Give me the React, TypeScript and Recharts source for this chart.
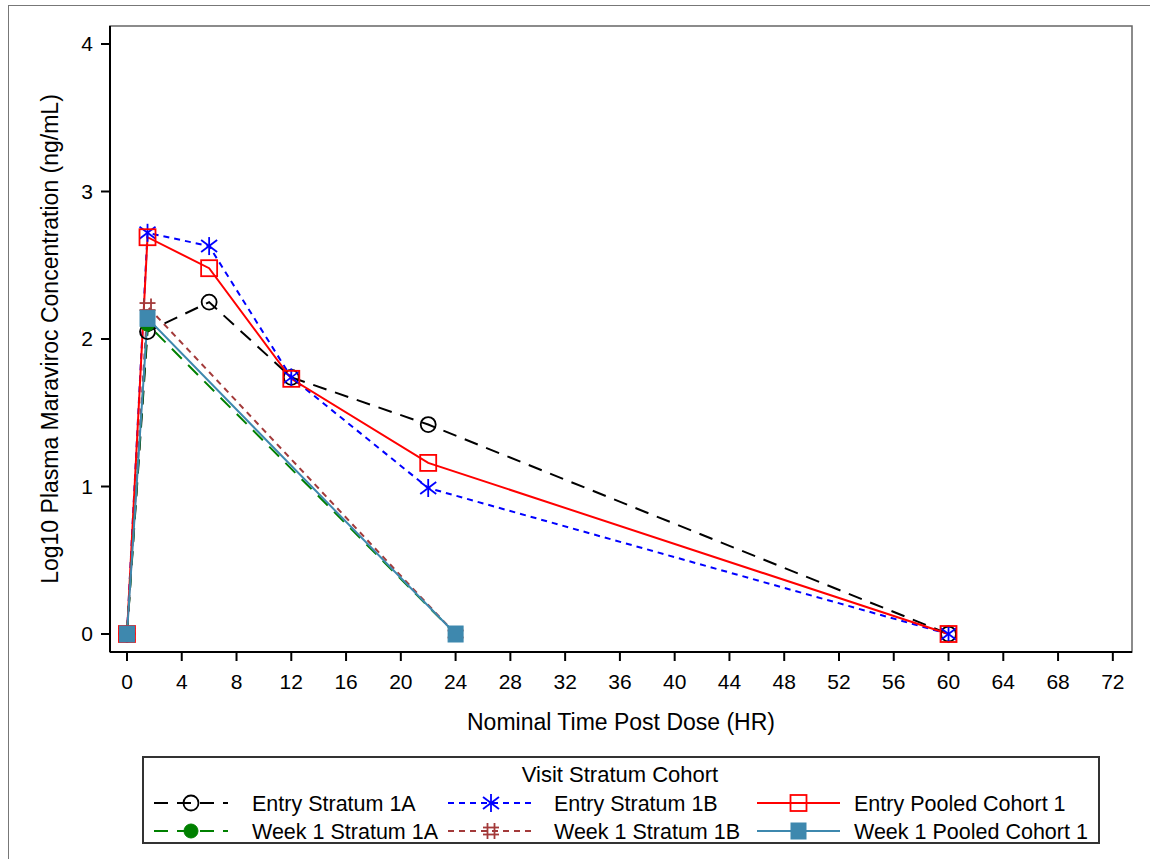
import React from "react";
import { LineChart, Line, XAxis, YAxis, ReferenceArea } from "recharts";

// nominal time points (hours)
const entryTime = [0, 1.5, 6, 12, 22, 60];
const week1Time = [0, 1.5, 24];

// log10 concentrations
const entry1A = [0, 2.05, 2.25, 1.74, 1.42, 0];
const entry1B = [0, 2.72, 2.63, 1.74, 0.99, 0];
const entryPooled = [0, 2.69, 2.48, 1.73, 1.16, 0];
const week1Stratum1A = [0, 2.1, 0];
const week1Stratum1B = [0, 2.22, 0];
const week1Pooled = [0, 2.14, 0];

const xTicks = [0, 4, 8, 12, 16, 20, 24, 28, 32, 36, 40, 44, 48, 52, 56, 60, 64, 68, 72];
const yTicks = [0, 1, 2, 3, 4];

const FONT = "'Liberation Sans', Arial, sans-serif";

type MarkerKind = "openCircle" | "asterisk" | "openSquare" | "dot" | "hash" | "square";

const toPoints = (xs: number[], ys: number[]) => xs.map((x, i) => ({ x, y: ys[i] }));

const series = [
  { name: "Entry Stratum 1A", data: toPoints(entryTime, entry1A), color: "#000000", dash: "14 9", marker: "openCircle" as MarkerKind },
  { name: "Entry Stratum 1B", data: toPoints(entryTime, entry1B), color: "#0000FF", dash: "6 5", marker: "asterisk" as MarkerKind },
  { name: "Entry Pooled Cohort 1", data: toPoints(entryTime, entryPooled), color: "#FF0000", dash: undefined, marker: "openSquare" as MarkerKind },
  { name: "Week 1 Stratum 1A", data: toPoints(week1Time, week1Stratum1A), color: "#008000", dash: "14 9", marker: "dot" as MarkerKind },
  { name: "Week 1 Stratum 1B", data: toPoints(week1Time, week1Stratum1B), color: "#A33A3A", dash: "6 5", marker: "hash" as MarkerKind },
  { name: "Week 1 Pooled Cohort 1", data: toPoints(week1Time, week1Pooled), color: "#3E88AE", dash: undefined, marker: "square" as MarkerKind },
];

function Marker({ kind, cx, cy, color }: { kind: MarkerKind; cx: number; cy: number; color: string }) {
  if (cx == null || cy == null) return null;
  const sw = 1.8;
  switch (kind) {
    case "openCircle":
      return <circle cx={cx} cy={cy} r={7.5} fill="none" stroke={color} strokeWidth={sw} />;
    case "dot":
      return <circle cx={cx} cy={cy} r={7} fill={color} stroke={color} strokeWidth={1} />;
    case "openSquare":
      return <rect x={cx - 8} y={cy - 8} width={16} height={16} fill="none" stroke={color} strokeWidth={sw} />;
    case "square":
      return <rect x={cx - 7.5} y={cy - 8} width={15} height={16} fill={color} stroke={color} strokeWidth={1} />;
    case "asterisk":
      return (
        <g stroke={color} strokeWidth={sw}>
          <line x1={cx} y1={cy - 9} x2={cx} y2={cy + 9} />
          <line x1={cx - 8} y1={cy - 6} x2={cx + 8} y2={cy + 6} />
          <line x1={cx - 8} y1={cy + 6} x2={cx + 8} y2={cy - 6} />
        </g>
      );
    case "hash":
      return (
        <g stroke={color} strokeWidth={sw}>
          <line x1={cx - 3.5} y1={cy - 8} x2={cx - 3.5} y2={cy + 8} />
          <line x1={cx + 3.5} y1={cy - 8} x2={cx + 3.5} y2={cy + 8} />
          <line x1={cx - 8} y1={cy - 3.5} x2={cx + 8} y2={cy - 3.5} />
          <line x1={cx - 8} y1={cy + 3.5} x2={cx + 8} y2={cy + 3.5} />
        </g>
      );
  }
  return null;
}

function LegendBox() {
  const cols = [
    { lineX: 10, lineW: 74, textX: 108 },
    { lineX: 304, lineW: 86, textX: 410 },
    { lineX: 613, lineW: 83, textX: 710 },
  ];
  const rows = [45, 73];
  return (
    <div
      style={{
        position: "absolute",
        left: 142,
        top: 756,
        width: 958,
        height: 88,
        border: "2px solid #333",
        boxSizing: "border-box",
        background: "#fff",
      }}
    >
      <svg width={954} height={84} style={{ position: "absolute", left: 0, top: 0, overflow: "visible" }}>
        <text x={476} y={24} textAnchor="middle" fontFamily={FONT} fontSize={22} fill="#000">
          Visit Stratum Cohort
        </text>
        {series.map((s, i) => {
          const c = cols[i % 3];
          const y = rows[Math.floor(i / 3)];
          return (
            <g key={s.name}>
              <line x1={c.lineX} y1={y} x2={c.lineX + c.lineW} y2={y} stroke={s.color} strokeWidth={2} strokeDasharray={s.dash} />
              <Marker kind={s.marker} cx={c.lineX + c.lineW / 2} cy={y} color={s.color} />
              <text x={c.textX} y={y + 8} fontFamily={FONT} fontSize={21.5} fill="#000">
                {s.name}
              </text>
            </g>
          );
        })}
      </svg>
    </div>
  );
}

export default function App() {
  return (
    <div style={{ position: "absolute", left: 0, top: 0, width: 1150, height: 859, overflow: "hidden", background: "#fff" }}>
      <div
        style={{
          position: "absolute",
          left: 8,
          top: 5,
          width: 1142,
          height: 854,
          borderLeft: "1.5px solid #777",
          borderTop: "1.5px solid #777",
          boxSizing: "border-box",
        }}
      />
      <div style={{ position: "absolute", left: 0, top: 0 }}>
        <LineChart width={1150} height={792} margin={{ top: 26, right: 18, left: 10, bottom: 0 }}>
          <XAxis
            dataKey="x"
            type="number"
            domain={[-1.24, 73.4]}
            ticks={xTicks}
            allowDataOverflow
            height={140}
            tickSize={9}
            tickMargin={13}
            stroke="#000"
            strokeWidth={2}
            tick={{ fill: "#000", fontSize: 21, fontFamily: FONT }}
            label={{ value: "Nominal Time Post Dose (HR)", position: "center", fill: "#000", fontSize: 23, fontFamily: FONT }}
          />
          <YAxis
            dataKey="y"
            type="number"
            domain={[-0.122, 4.122]}
            ticks={yTicks}
            allowDataOverflow
            width={100}
            tickSize={9}
            tickMargin={8}
            stroke="#000"
            strokeWidth={2}
            tick={{ fill: "#000", fontSize: 21, fontFamily: FONT }}
            label={{
              value: "Log10 Plasma Maraviroc Concentration (ng/mL)",
              angle: -90,
              position: "center",
              dx: -10,
              fill: "#000",
              fontSize: 23,
              fontFamily: FONT,
            }}
          />
          <ReferenceArea x1={-1.24} x2={73.4} y1={-0.122} y2={4.122} fill="none" stroke="#666" strokeWidth={1.5} ifOverflow="visible" />
          {series.map((s) => (
            <Line
              key={s.name}
              data={s.data}
              dataKey="y"
              name={s.name}
              stroke={s.color}
              strokeWidth={2}
              strokeDasharray={s.dash}
              type="linear"
              isAnimationActive={false}
              activeDot={false}
              dot={(p: any) => <Marker key={`${s.name}-${p.index}`} kind={s.marker} cx={p.cx} cy={p.cy} color={s.color} />}
            />
          ))}
        </LineChart>
      </div>
      <LegendBox />
    </div>
  );
}
